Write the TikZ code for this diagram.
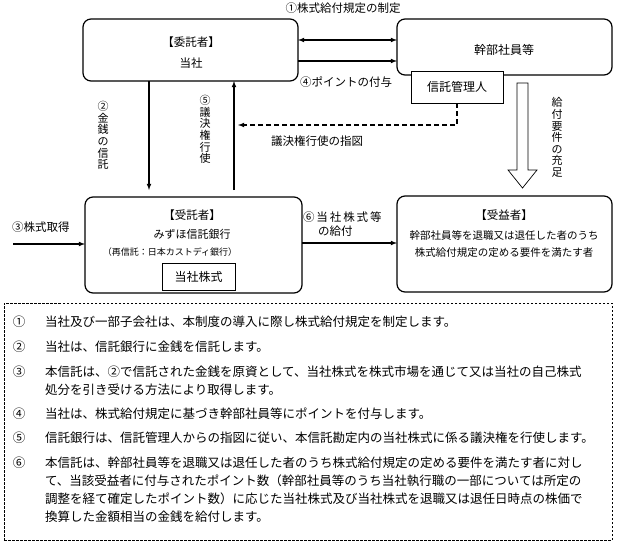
\documentclass[tikz,border=0pt]{standalone}
\usepackage{fontspec}
\setmainfont{Noto Sans CJK JP}
\usetikzlibrary{calc}
\XeTeXlinebreaklocale "ja"
\XeTeXlinebreakskip=0pt plus 1pt
\newlength{\listw}\setlength{\listw}{558pt}
\newcommand{\fullline}[1]{\makebox[\listw][s]{#1}}

\begin{document}
\begin{tikzpicture}[x=1pt,y=-1pt,every node/.style={inner sep=0pt,outer sep=0pt},
    party/.style={draw,line width=1.2pt,rounded corners=8pt,minimum width=215pt},
    plain/.style={draw,line width=0.8pt,fill=white,font=\fontsize{12}{12}\selectfont},
    link/.style={-latex,line width=1.1pt},
    lbl/.style={font=\fontsize{11.5}{14}\selectfont},
    vlbl/.style={align=center,font=\fontsize{11}{11.6}\selectfont},
    num/.style={anchor=base,font=\fontsize{12.5}{18.3}\selectfont},
    item/.style={anchor=base west,align=left,font=\fontsize{12.5}{18.3}\selectfont}]
      \useasboundingbox (0,0) rectangle (618,543);

      \node[party,minimum height=62pt] (truster) at (190.5,50) {};
      \node[party,minimum height=56pt] (staff) at (504.5,47) {};
      \node[plain,minimum width=92pt,minimum height=32pt] (admin) at (457,87) {信託管理人};
      \node[party,minimum width=217pt,minimum height=96pt] (trustee) at (193.5,245) {};
      \node[party,minimum height=96pt] (beneficiary) at (504.5,244) {};
      \node[plain,minimum width=73pt,minimum height=27pt] (shares) at (198.5,276.5) {当社株式};

      \node[font=\fontsize{11.5}{12}\selectfont] (truster title) at (191,42) {【委託者】};
      \node[font=\fontsize{11.5}{12}\selectfont] (truster name) at (191,63) {当社};
      \node[font=\fontsize{12}{12}\selectfont] (staff name) at (504,50) {幹部社員等};
      \node[font=\fontsize{11.5}{12}\selectfont] (trustee title) at (192,215) {【受託者】};
      \node[font=\fontsize{11}{12}\selectfont] (trustee name) at (192,234) {みずほ信託銀行};
      \node[font=\fontsize{9}{10}\selectfont] (trustee sub) at (170,252) {（再信託：日本カストディ銀行）};
      \node[font=\fontsize{11.5}{12}\selectfont] (beneficiary title) at (504,215) {【受益者】};
      \node[font=\fontsize{10.5}{12}\selectfont] (beneficiary line1) at (504,236) {幹部社員等を退職又は退任した者のうち};
      \node[font=\fontsize{10.5}{12}\selectfont] (beneficiary line2) at (504,253) {株式給付規定の定める要件を満たす者};

      \node[lbl] (rule label) at (343,8) {①株式給付規定の制定};
      \node[lbl] (point label) at (346,82) {④ポイントの付与};
      \node[lbl] (order label) at (317,141) {議決権行使の指図};
      \node[lbl] (buy label) at (41,227) {③株式取得};
      \node[lbl,align=left,anchor=north west] (pay label) at (303,212) {⑥\,当\,社\,株\,式\,等\\\hspace{15pt}の給付};
      \node[vlbl] (money label) at (103,135.5) {②\\金\\銭\\の\\信\\託};
      \node[vlbl] (vote label) at (205,129.5) {⑤\\議\\決\\権\\行\\使};
      \node[vlbl] (cond label) at (557,137.5) {給\\付\\要\\件\\の\\充\\足};

      \coordinate (order end) at (238,125);
      \coordinate (buy start) at (13,244);

      \draw[link,latex-latex] ([yshift=10pt]truster.east) -- ([yshift=10pt]truster.east -| staff.west);
      \draw[link] ([yshift=-11pt]truster.east) -- ([yshift=-11pt]truster.east -| staff.west);
      \draw[link,shorten >=7pt] ([xshift=-41.5pt]truster.south) -- ([xshift=-41.5pt]truster.south |- trustee.north);
      \draw[link,shorten <=7pt] ([xshift=40.5pt]trustee.north) -- ([xshift=40.5pt]trustee.north |- truster.south);
      \draw[link,dash pattern=on 5pt off 3pt] (admin.south) |- (order end);
      \draw[link] (buy start) -- (buy start -| trustee.west);
      \draw[link] ([yshift=2pt]trustee.east) -- ([yshift=2pt]trustee.east -| beneficiary.west);
      \draw[line width=0.7pt] (517,83) -- (528,83) -- (528,170) -- (537,170) -- (522.5,188) -- (508,170) -- (517,170) -- cycle;

      % notes below, base anchor sits on the last line of each item
      \node[draw,line width=0.8pt,dash pattern=on 2.5pt off 1.5pt,minimum width=608pt,minimum height=237pt] (notes) at (308,421.5) {};
      \node[num] (n1) at (19,326.5) {①};
      \node[num] (n2) at (19,351.5) {②};
      \node[num] (n3) at (19,376.5) {③};
      \node[num] (n4) at (19,418.5) {④};
      \node[num] (n5) at (19,442.5) {⑤};
      \node[num] (n6) at (19,467) {⑥};
      \node[item] (item1) at (45,326.5) {当社及び一部子会社は、本制度の導入に際し株式給付規定を制定します。};
      \node[item] (item2) at (45,351.5) {当社は、信託銀行に金銭を信託します。};
      \node[item] (item3) at (45,394.8) {\fullline{本信託は、②で信託された金銭を原資として、当社株式を株式市場を通じて又は当社の自己株式}\\処分を引き受ける方法により取得します。};
      \node[item] (item4) at (45,418.5) {当社は、株式給付規定に基づき幹部社員等にポイントを付与します。};
      \node[item] (item5) at (45,442.5) {信託銀行は、信託管理人からの指図に従い、本信託勘定内の当社株式に係る議決権を行使します。};
      \node[item] (item6) at (45,521.9) {\fullline{本信託は、幹部社員等を退職又は退任した者のうち株式給付規定の定める要件を満たす者に対し}\\\fullline{て、当該受益者に付与されたポイント数（幹部社員等のうち当社執行職の一部については所定の}\\\fullline{調整を経て確定したポイント数）に応じた当社株式及び当社株式を退職又は退任日時点の株価で}\\換算した金額相当の金銭を給付します。};
    \end{tikzpicture}
\end{document}
